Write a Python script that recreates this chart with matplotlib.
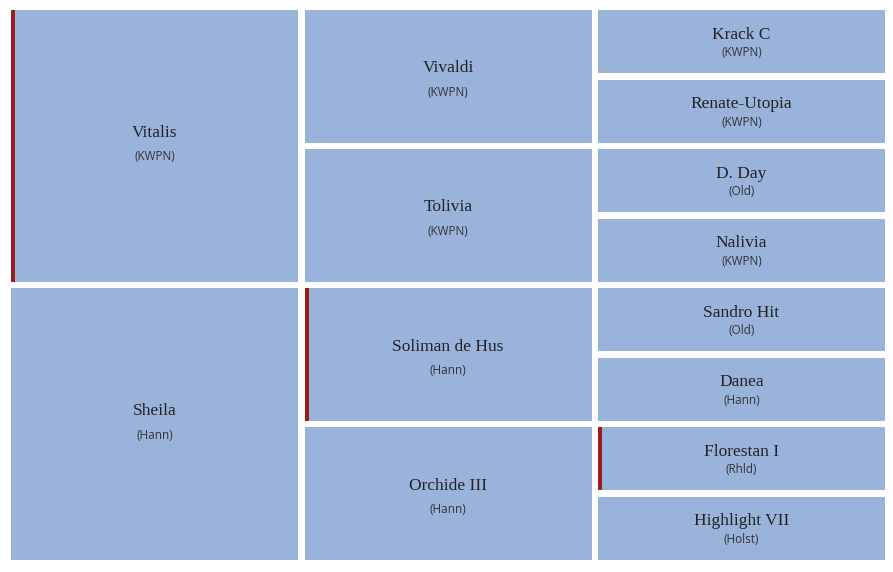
import matplotlib
matplotlib.use("Agg")
import matplotlib.pyplot as plt
from matplotlib.patches import Rectangle

# pedigree, generation by generation (top to bottom)
gen1_names = ["Vitalis", "Sheila"]
gen1_breeds = ["KWPN", "Hann"]
gen1_marked = [True, False]

gen2_names = ["Vivaldi", "Tolivia", "Soliman de Hus", "Orchide III"]
gen2_breeds = ["KWPN", "KWPN", "Hann", "Hann"]
gen2_marked = [False, False, True, False]

gen3_names = ["Krack C", "Renate-Utopia", "D. Day", "Nalivia",
              "Sandro Hit", "Danea", "Florestan I", "Highlight VII"]
gen3_breeds = ["KWPN", "KWPN", "Old", "KWPN", "Old", "Hann", "Rhld", "Holst"]
gen3_marked = [False, False, False, False, False, False, True, False]

generations = [
    (gen1_names, gen1_breeds, gen1_marked),
    (gen2_names, gen2_breeds, gen2_marked),
    (gen3_names, gen3_breeds, gen3_marked),
]

box_color = "#9ab3db"
mark_color = "#9b1c1c"
text_color = "#222222"

W, H = 893, 572
fig = plt.figure(figsize=(W / 100, H / 100), dpi=100)
ax = fig.add_axes([0, 0, 1, 1])
ax.set_xlim(0, W)
ax.set_ylim(H, 0)
ax.axis("off")

left, right, top, bottom = 11, 885, 10, 560
gap = 6.5
col_w = (right - left - 2 * gap) / 3

for g, (names, breeds, marked) in enumerate(generations):
    x0 = left + g * (col_w + gap)
    n = len(names)
    row_h = (bottom - top - (n - 1) * gap) / n
    for i in range(n):
        y0 = top + i * (row_h + gap)
        ax.add_patch(Rectangle((x0, y0), col_w, row_h, facecolor=box_color,
                               edgecolor="none"))
        if marked[i]:
            ax.add_patch(Rectangle((x0, y0), 4, row_h, facecolor=mark_color,
                                   edgecolor="none"))
        cx = x0 + col_w / 2
        cy = y0 + row_h / 2
        off_name = [13, 8, 7][g]
        off_breed = [11, 16, 11][g]
        ax.text(cx, cy - off_name, names[i], ha="center", va="center",
                fontsize=12.5, family="Liberation Serif", color=text_color)
        ax.text(cx, cy + off_breed, "(" + breeds[i] + ")", ha="center",
                va="center", fontsize=8.5, family="Open Sans", color="#333333")

fig.savefig("out.png", dpi=100)
